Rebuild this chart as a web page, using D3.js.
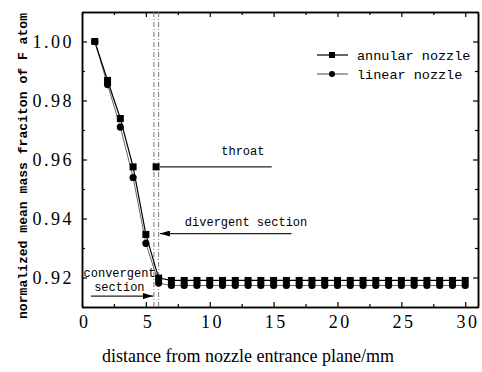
<!DOCTYPE html>
<html>
<head>
<meta charset="utf-8">
<script src="https://cdn.jsdelivr.net/npm/d3@7"></script>
<style>
  body { margin: 0; background: #fff; }
  svg { display: block; }
  .anno { font-family: "Liberation Mono", monospace; font-size: 12px; fill: #000; }
  .serif { font-family: "Liberation Serif", "Times New Roman", "DejaVu Serif", serif; }
</style>
</head>
<body>
<svg id="chart" width="482" height="372"></svg>
<script>
// chart values
const xAnnular = [1, 2, 3, 4, 5, 6, 7, 8, 9, 10, 11, 12, 13, 14, 15, 16, 17, 18, 19, 20, 21, 22, 23, 24, 25, 26, 27, 28, 29, 30];
const annular = [1.000, 0.9868, 0.9739, 0.9575, 0.9346, 0.9198, 0.919, 0.919, 0.919, 0.919, 0.919, 0.919, 0.919, 0.919, 0.919,
  0.919, 0.919, 0.919, 0.919, 0.919, 0.919, 0.919, 0.919, 0.919, 0.919, 0.919, 0.919, 0.919, 0.919, 0.919];
const xLinear = xAnnular;
const linear = [1.000, 0.9854, 0.971, 0.9539, 0.9316, 0.9181, 0.9173, 0.9173, 0.9173, 0.9173, 0.9173, 0.9173, 0.9173, 0.9173, 0.9173,
  0.9173, 0.9173, 0.9173, 0.9173, 0.9173, 0.9173, 0.9173, 0.9173, 0.9173, 0.9173, 0.9173, 0.9173, 0.9173, 0.9173, 0.9173];
const throatPoint = [5.8, 0.9575];
const sectionLines = [5.63, 6.0];
const xTicks = [0, 5, 10, 15, 20, 25, 30];
const yTicks = [0.92, 0.94, 0.96, 0.98, 1.00];
const seriesNames = ["annular nozzle", "linear nozzle"];

const svg = d3.select("#chart");
const mLeft = 82, mRight = 478, mTop = 12, mBottom = 307;

const x = d3.scaleLinear().domain([0, 31]).range([mLeft, mRight]);
const y = d3.scaleLinear().domain([0.91, 1.01]).range([mBottom, mTop]);

// axes, ticks pointing inward
function styleAxis(g) {
  g.attr("font-family", "'Liberation Serif', serif").attr("font-size", 18);
  g.select(".domain").attr("stroke", "#000").attr("stroke-width", 1.5);
  g.selectAll(".tick line").attr("stroke", "#000").attr("stroke-width", 1.2);
  g.selectAll(".tick text")
    .style("font-family", "'Liberation Serif', serif")
    .style("font-size", "18px").style("letter-spacing", "2.5px").attr("fill", "#000");
}

svg.append("g").attr("transform", `translate(0,${mBottom})`)
  .call(d3.axisBottom(x).tickValues(xTicks).tickFormat(d3.format("d")).tickSize(-5).tickSizeOuter(0).tickPadding(8))
  .call(styleAxis)
  .selectAll("text").attr("dx", "0.12em");
svg.append("g").attr("transform", `translate(0,${mBottom})`)
  .call(d3.axisBottom(x).tickValues(d3.range(2.5, 31, 5)).tickFormat("").tickSize(-3).tickSizeOuter(0))
  .call(styleAxis);

svg.append("g").attr("transform", `translate(0,${mTop})`)
  .call(d3.axisTop(x).tickValues(xTicks).tickFormat("").tickSize(-5).tickSizeOuter(0))
  .call(styleAxis);
svg.append("g").attr("transform", `translate(0,${mTop})`)
  .call(d3.axisTop(x).tickValues(d3.range(2.5, 31, 5)).tickFormat("").tickSize(-3).tickSizeOuter(0))
  .call(styleAxis);

svg.append("g").attr("transform", `translate(${mLeft},0)`)
  .call(d3.axisLeft(y).tickValues(yTicks).tickFormat(d3.format(".2f")).tickSize(-5).tickSizeOuter(0).tickPadding(8))
  .call(styleAxis);
svg.append("g").attr("transform", `translate(${mLeft},0)`)
  .call(d3.axisLeft(y).tickValues([0.91, 0.93, 0.95, 0.97, 0.99, 1.01]).tickFormat("").tickSize(-3).tickSizeOuter(0))
  .call(styleAxis);

svg.append("g").attr("transform", `translate(${mRight},0)`)
  .call(d3.axisRight(y).tickValues(yTicks).tickFormat("").tickSize(-5).tickSizeOuter(0))
  .call(styleAxis);
svg.append("g").attr("transform", `translate(${mRight},0)`)
  .call(d3.axisRight(y).tickValues([0.91, 0.93, 0.95, 0.97, 0.99, 1.01]).tickFormat("").tickSize(-3).tickSizeOuter(0))
  .call(styleAxis);

// vertical dash-dot lines at throat
svg.selectAll(".vline").data(sectionLines).enter().append("line")
  .attr("x1", d => x(d)).attr("x2", d => x(d))
  .attr("y1", mTop).attr("y2", mBottom)
  .attr("stroke", "#777").attr("stroke-width", 1)
  .attr("stroke-dasharray", "5,2,1,2");

// series lines
const annData = xAnnular.map((d, i) => [d, annular[i]]);
const linData = xLinear.map((d, i) => [d, linear[i]]);
const line = d3.line().x(d => x(d[0])).y(d => y(d[1]));

svg.append("path").datum(linData).attr("d", line)
  .attr("fill", "none").attr("stroke", "#666").attr("stroke-width", 1);
svg.append("path").datum(annData).attr("d", line)
  .attr("fill", "none").attr("stroke", "#000").attr("stroke-width", 1.2);

// markers
svg.selectAll(".circ").data(linData).enter().append("circle")
  .attr("cx", d => x(d[0])).attr("cy", d => y(d[1])).attr("r", 3.6).attr("fill", "#000");
svg.selectAll(".sq").data(annData.concat([throatPoint])).enter().append("rect")
  .attr("x", d => x(d[0]) - 3.5).attr("y", d => y(d[1]) - 3.5)
  .attr("width", 7).attr("height", 7).attr("fill", "#000");

// annotations
const defs = svg.append("defs");
defs.append("marker").attr("id", "arrow").attr("viewBox", "0 0 10 6")
  .attr("refX", 10).attr("refY", 3).attr("markerWidth", 10).attr("markerHeight", 6)
  .attr("markerUnits", "userSpaceOnUse").attr("orient", "auto")
  .append("path").attr("d", "M0,0 L10,3 L0,6 Z").attr("fill", "#000");

const annoLines = [
  { x1: 6.1, x2: 14.85, y: 0.9575, arrow: false },
  { x1: 16.4, x2: 6.1, y: 0.9349, arrow: true },
  { x1: 0.7, x2: 5.56, y: 0.9137, arrow: true }
];
svg.selectAll(".aline").data(annoLines).enter().append("line")
  .attr("x1", d => x(d.x1)).attr("x2", d => x(d.x2))
  .attr("y1", d => y(d.y)).attr("y2", d => y(d.y))
  .attr("stroke", "#222").attr("stroke-width", 1.3)
  .attr("marker-end", d => d.arrow ? "url(#arrow)" : null);

const annoText = [
  { t: "throat", x: 10.9, y: 0.9615 },
  { t: "divergent section", x: 8.05, y: 0.9376 },
  { t: "convergent", x: 0.12, y: 0.9203 },
  { t: "section", x: 0.95, y: 0.9155 }
];
svg.selectAll(".atext").data(annoText).enter().append("text")
  .attr("class", "anno")
  .attr("x", d => x(d.x)).attr("y", d => y(d.y))
  .text(d => d.t);

// legend
const legend = svg.append("g");
const legY = [55, 74];
seriesNames.forEach((name, i) => {
  const g = legend.append("g").attr("transform", `translate(317,${legY[i]})`);
  g.append("line").attr("x1", 0).attr("x2", 31).attr("y1", 0).attr("y2", 0)
    .attr("stroke", i === 0 ? "#000" : "#666").attr("stroke-width", 1.2);
  if (i === 0) g.append("rect").attr("x", 12).attr("y", -3).attr("width", 6).attr("height", 6).attr("fill", "#000");
  else g.append("circle").attr("cx", 15).attr("cy", 0).attr("r", 3).attr("fill", "#000");
  g.append("text").attr("x", 40).attr("y", 4.5)
    .style("font-family", "Liberation Mono, monospace").style("font-size", "13.5px")
    .text(name);
});

// axis titles
svg.append("text").attr("class", "serif")
  .attr("x", 248).attr("y", 362).attr("text-anchor", "middle")
  .style("font-size", "18px")
  .text("distance from nozzle entrance plane/mm");

svg.append("text")
  .attr("transform", "translate(27,166) rotate(-90)")
  .attr("text-anchor", "middle")
  .attr("textLength", 306).attr("lengthAdjust", "spacingAndGlyphs")
  .style("font-family", "Liberation Mono, monospace").style("font-size", "13.5px").style("font-weight", "bold")
  .text("normalized mean mass fraciton of F atom");
</script>
</body>
</html>
